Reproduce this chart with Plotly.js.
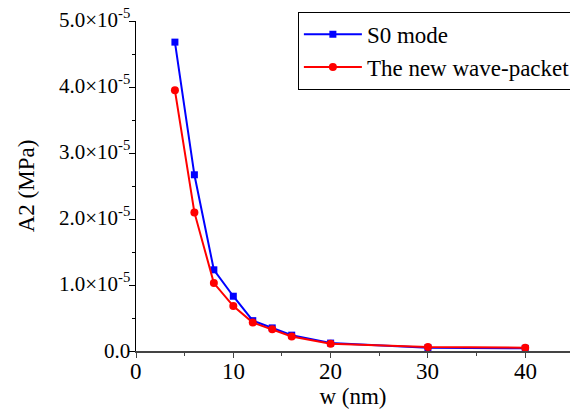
<!DOCTYPE html>
<html>
<head>
<meta charset="utf-8">
<script src="https://cdn.plot.ly/plotly-3.0.1.min.js"></script>
<style>
html,body{margin:0;padding:0;background:#fff;}
#chart{width:570px;height:411px;}
</style>
</head>
<body>
<div id="chart"></div>
<script>
const widths = [4, 6, 8, 10, 12, 14, 16, 20, 30, 40];
const s0Mode = [4.68e-5, 2.67e-5, 1.23e-5, 0.83e-5, 0.46e-5, 0.35e-5, 0.24e-5, 0.12e-5, 0.05e-5, 0.04e-5];
const newPacket = [3.95e-5, 2.10e-5, 1.03e-5, 0.68e-5, 0.43e-5, 0.33e-5, 0.22e-5, 0.11e-5, 0.06e-5, 0.05e-5];
const yTickVals = [0, 1e-5, 2e-5, 3e-5, 4e-5, 5e-5];
const yTickText = ['0.0', '1.0×10<sup>-5</sup>', '2.0×10<sup>-5</sup>', '3.0×10<sup>-5</sup>', '4.0×10<sup>-5</sup>', '5.0×10<sup>-5</sup>'];
const xTickVals = [0, 10, 20, 30, 40];
const xTickText = ['0', '10', '20', '30', '40'];

const FAMILY = 'Liberation Serif, Times New Roman, Times, serif';
const f = (size) => ({family: FAMILY, size: size, color: '#000'});

const traces = [
  {x: widths, y: s0Mode, name: 'S0 mode', mode: 'lines+markers', type: 'scatter',
   line: {color: '#0000ff', width: 2}, marker: {symbol: 'square', size: 7, color: '#0000ff'}, cliponaxis: false},
  {x: widths, y: newPacket, name: 'The new wave-packet', mode: 'lines+markers', type: 'scatter',
   line: {color: '#ff0000', width: 2}, marker: {symbol: 'circle', size: 8, color: '#ff0000'}, cliponaxis: false}
];

// Tick labels drawn as annotations placed through the axes' own scales
const annotations = [];
yTickVals.forEach((v, i) => annotations.push({
  x: 0, xref: 'paper', y: v, yref: 'y', text: yTickText[i], showarrow: false,
  xanchor: 'right', yanchor: 'middle', xshift: -5, yshift: yTickText[i].includes('<sup>') ? 3 : 0,
  font: f(21), borderpad: 0
}));
xTickVals.forEach((v, i) => annotations.push({
  x: v, xref: 'x', y: 0, yref: 'paper', text: xTickText[i], showarrow: false,
  xanchor: 'center', yanchor: 'top', yshift: -7, font: f(23), borderpad: 0
}));

const layout = {
  width: 570, height: 411,
  margin: {l: 136, r: 0, t: 21, b: 60, pad: 0, autoexpand: false},
  paper_bgcolor: '#fff', plot_bgcolor: '#fff',
  font: f(22),
  showlegend: true,
  legend: {x: 0.373, y: 1.028, xanchor: 'left', yanchor: 'top', bordercolor: '#000', borderwidth: 1,
           bgcolor: '#fff', font: f(23), tracegroupgap: 0, itemwidth: 58},
  annotations: annotations,
  xaxis: {
    range: [0, 44.6], showgrid: false, zeroline: false, showline: true, linecolor: '#444', linewidth: 1.5,
    tickmode: 'array', tickvals: xTickVals, showticklabels: false,
    ticks: 'outside', ticklen: 5, tickcolor: '#444', tickwidth: 1,
    minor: {tickmode: 'linear', tick0: 0, dtick: 5, ticks: 'outside', ticklen: 3, tickcolor: '#444'},
    title: {text: 'w (nm)', font: f(23), standoff: 31}
  },
  yaxis: {
    range: [0, 5e-5], showgrid: false, zeroline: false, showline: true, linecolor: '#000', linewidth: 1.5,
    tickmode: 'array', tickvals: yTickVals, showticklabels: false,
    ticks: 'outside', ticklen: 6, tickcolor: '#000',
    minor: {tickmode: 'linear', tick0: 0, dtick: 0.5e-5, ticks: 'outside', ticklen: 3, tickcolor: '#000'},
    title: {text: 'A2 (MPa)', font: f(23), standoff: 87}
  }
};

Plotly.newPlot('chart', traces, layout, {displayModeBar: false, staticPlot: true});
</script>
</body>
</html>
